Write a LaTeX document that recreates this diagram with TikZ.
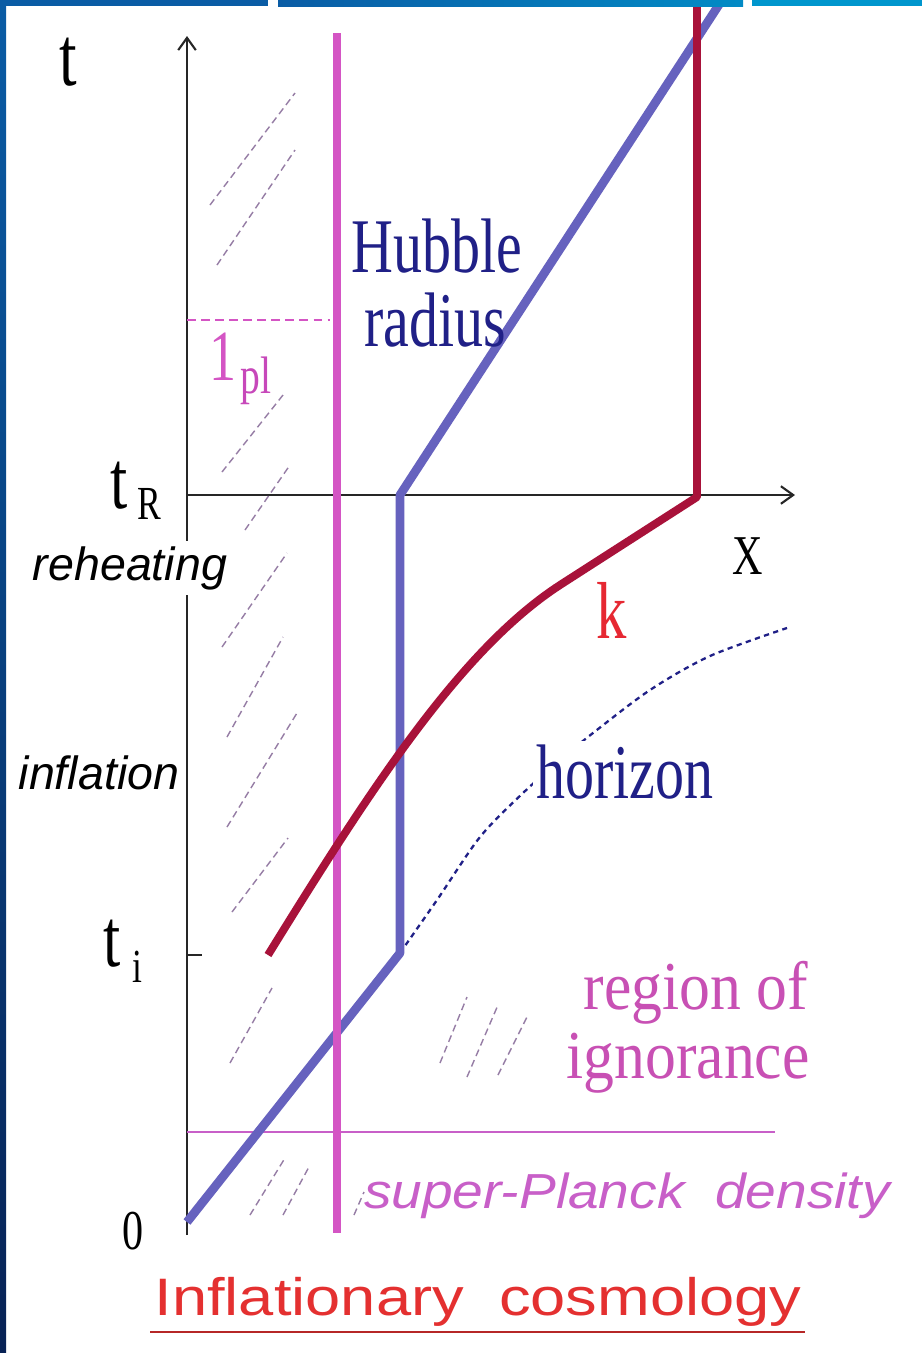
\documentclass[tikz,border=0pt]{standalone}
\usepackage{fontspec}
\setmainfont{Liberation Serif}
\newfontfamily\condserif[FakeStretch=0.75]{Liberation Serif}
\newfontfamily\midserif[FakeStretch=0.9]{Liberation Serif}
\newfontfamily\plainsans{Liberation Sans}
\newfontfamily\planksans[FakeStretch=1.12]{Liberation Sans}
\newfontfamily\widesans[FakeStretch=1.2]{Liberation Sans}
\usetikzlibrary{arrows.meta,positioning}
\usepackage{xcolor}

\definecolor{planckpink}{RGB}{212,85,196}
\definecolor{hubbleblue}{RGB}{102,98,190}
\definecolor{kred}{RGB}{168,18,58}
\definecolor{klabel}{RGB}{230,40,50}
\definecolor{navytext}{RGB}{32,32,135}
\definecolor{ignorepink}{RGB}{200,80,180}
\definecolor{superpink}{RGB}{200,95,200}
\definecolor{hatchgray}{RGB}{150,125,165}
\definecolor{titlered}{RGB}{228,48,48}
\definecolor{frametop}{RGB}{10,92,165}
\definecolor{framebot}{RGB}{8,34,85}
\definecolor{framecyan}{RGB}{0,150,205}

\begin{document}
\begin{tikzpicture}[x=0.02cm, y=-0.02cm,
  axis/.style={line width=1.2pt, black!85, -{Straight Barb[length=7pt,width=10pt]}},
  hubble/.style={line width=5pt, hubbleblue, line join=round},
  kmode/.style={line width=4.5pt, kred, line join=round},
  planck/.style={line width=4pt, planckpink},
  hatch/.style={line width=0.8pt, hatchgray, dash pattern=on 4pt off 2.5pt},
  bigserif/.style={inner sep=0pt, font=\condserif\fontsize{44}{50}\selectfont},
  subserif/.style={inner sep=0pt, font=\condserif\fontsize{27}{30}\selectfont},
  ignorelbl/.style={inner sep=0pt, ignorepink, font=\midserif\fontsize{39}{42}\selectfont},
  phase/.style={fill=white, inner sep=3pt, font=\plainsans\itshape\fontsize{26.5}{30}\selectfont},
]
  % Page and margins
  \fill[white] (0,0) rectangle (922,1353);
  \useasboundingbox (0,0) rectangle (922,1353);

  % Axes
  \coordinate (origin) at (187,1235);
  \coordinate (tTop) at (187,36);
  \coordinate (xStart) at (187,495);
  \coordinate (xEnd) at (795,495);
  \coordinate (tiTick) at (187,955);
  \coordinate (tiTickEnd) at (202,955);
  \draw[axis] (origin) -- (tTop);
  \draw[axis] (xStart) -- (xEnd);
  \draw[line width=1.2pt, black!85] (tiTick) -- (tiTickEnd);

  % Hatching
  \foreach \xa/\ya/\xb/\yb in {210/205/295/93, 217/265/295/150, 222/472/283/395,
      245/530/290/465, 222/647/287/553, 227/737/283/637, 227/827/297/713,
      232/912/288/838, 230/1063/272/988, 250/1215/285/1158, 283/1215/310/1165,
      354/1215/364/1192, 440/1063/467/997, 467/1077/498/1005, 498/1075/527/1017}
    \draw[hatch] (\xa,\ya) -- (\xb,\yb);

  % Planck length
  \coordinate (lplLeft) at (187,320);
  \coordinate (lplRight) at (330,320);
  \draw[planckpink, line width=0.9pt, dash pattern=on 5pt off 3pt] (lplLeft) -- (lplRight);
  \coordinate (densLeft) at (187,1132);
  \coordinate (densRight) at (775,1132);
  \draw[superpink, line width=1.1pt] (densLeft) -- (densRight);

  % Horizon
  \draw[navytext, line width=1.3pt, dash pattern=on 3pt off 2.5pt]
    plot[smooth] coordinates {(400,953) (437,900) (480,837) (523,793) (560,760)
      (593,733) (650,690) (710,656) (787,628)};

  % Hubble radius
  \coordinate (hStart) at (187,1222);
  \coordinate (hI) at (400,953);
  \coordinate (hR) at (400,495);
  \coordinate (hEnd) at (722,0);
  \draw[hubble] (hStart) -- (hI) -- (hR) -- (hEnd);

  % Planck line
  \coordinate (plTop) at (337,33);
  \coordinate (plBot) at (337,1233);
  \draw[planck] (plTop) -- (plBot);

  % Mode k
  \coordinate (kStart) at (268,955);
  \coordinate (kBend) at (560,585);
  \coordinate (kR) at (697,497);
  \coordinate (kTop) at (697,0);
  \draw[kmode] (kStart) .. controls (370,790) and (460,650) .. (kBend) -- (kR) -- (kTop);

  % Labels
  \node[bigserif, font=\condserif\fontsize{48}{50}\selectfont] (tLabel) at (68,62) {t};
  \node[bigserif, font=\condserif\fontsize{32}{36}\selectfont] (xLabel) at (748,556) {X};
  \node[bigserif, font=\condserif\fontsize{47}{50}\selectfont] (tRt) at (119,486) {t};
  \node[subserif] (tRsub) at (149,504) {R};
  \node[bigserif, font=\condserif\fontsize{47}{50}\selectfont] (tit) at (112,944) {t};
  \node[subserif] (tisub) at (137,967) {i};
  \node[bigserif, font=\condserif\fontsize{32}{36}\selectfont] (zero) at (133,1231) {0};
  \node[bigserif, planckpink, font=\condserif\fontsize{41}{44}\selectfont] (lplOne) at (223,357) {1};
  \node[subserif, planckpink!85!violet, font=\condserif\fontsize{30}{32}\selectfont] (lplSub) at (256,381) {pl};
  \node[bigserif, navytext] (hubbleLabel) at (437,246) {Hubble};
  \node[bigserif, navytext] (radiusLabel) at (435,320) {radius};
  \node[bigserif, klabel, font=\condserif\fontsize{46}{50}\selectfont] (kLabel) at (612,610) {k};
  \node[bigserif, navytext, fill=white, inner sep=2pt] (horizonLabel) at (625,772) {horizon};
  \node[ignorelbl] (regionLabel) at (696,993) {region of};
  \node[ignorelbl] (ignoranceLabel) at (688,1063) {ignorance};
  \node[phase] (reheating) at (130,568) {reheating};
  \node[phase] (inflation) at (99,773) {inflation};
  \node[inner sep=0pt, superpink, font=\planksans\itshape\fontsize{28}{30}\selectfont] (superPlanck) at (627,1196) {super-Planck\ \ density};
  \node[inner sep=0pt, titlered, font=\widesans\fontsize{30}{34}\selectfont] (title) at (478,1302) {Inflationary\ \ cosmology};
  \coordinate (ulLeft) at (150,1332);
  \coordinate (ulRight) at (805,1332);
  \draw[titlered!80!black, line width=1.2pt] (ulLeft) -- (ulRight);

  % Slide frame
  \shade[top color=frametop, bottom color=framebot] (0,0) rectangle (6,1353);
  \fill[frametop] (0,0) rectangle (268,6);
  \shade[left color=frametop, right color=framecyan!80!frametop] (278,0) rectangle (743,6);
  \fill[framecyan] (752,0) rectangle (922,6);
\end{tikzpicture}
\end{document}
